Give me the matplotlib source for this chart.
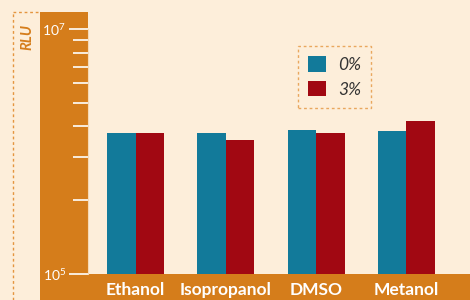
import numpy as np
import matplotlib.pyplot as plt
from matplotlib.patches import Rectangle
from matplotlib.lines import Line2D

# data (RLU)
categories = ["Ethanol", "Isopropanol", "DMSO", "Metanol"]
series_names = ["0%", "3%"]
values_0 = [1.42e6, 1.42e6, 1.50e6, 1.47e6]
values_3 = [1.42e6, 1.24e6, 1.42e6, 1.77e6]

bg = "#FDEEDA"
orange = "#D57D1B"
dash_orange = "#E4953F"
blue = "#127A9A"
red = "#A10812"

plt.rcParams['font.family'] = ['Lato', 'DejaVu Sans']

W, H = 470, 300
fig = plt.figure(figsize=(4.7, 3.0), dpi=100, facecolor=bg)

# decorative bands (figure pixel coords -> fraction)
def fx(px):
    return px / W

def fy(py):
    return 1 - py / H

fig.patches.append(Rectangle((fx(40), 0), fx(88) - fx(40), fy(12), transform=fig.transFigure,
                             facecolor=orange, edgecolor="none", zorder=-1))
fig.patches.append(Rectangle((fx(40), 0), 1 - fx(40), fy(274), transform=fig.transFigure,
                             facecolor=orange, edgecolor="none", zorder=-1))
# dotted box around RLU label
fig.add_artist(Line2D([fx(13), fx(13)], [0, fy(12)], transform=fig.transFigure,
                      color=dash_orange, lw=1, ls=(0, (2, 2))))
fig.add_artist(Line2D([fx(13), fx(40)], [fy(12), fy(12)], transform=fig.transFigure,
                      color=dash_orange, lw=1, ls=(0, (2, 2))))
fig.text(fx(27), fy(37), "RLU", rotation=90, ha="center", va="center",
         color=orange, fontsize=10.5, fontweight="bold", fontstyle="italic")

ax = fig.add_axes([fx(88), fy(274), 1 - fx(88), fy(29) - fy(274)])
ax.set_facecolor("none")

x = np.arange(len(categories))
w = 0.316
ax.bar(x - w / 2, values_0, w, color=blue, label=series_names[0], zorder=2)
ax.bar(x + w / 2, values_3, w, color=red, label=series_names[1], zorder=2)

ax.set_yscale("log")
ax.set_ylim(1e5, 1e7)
ax.set_xlim(-0.526, 3.704)

# minor ticks spaced like a single decade stretched over the axis
minor_pos = [1e5 * k ** 2 for k in range(2, 10)]
ax.set_yticks([1e5, 1e7], [r"$\mathregular{10^5}$", r"$\mathregular{10^7}$"])
ax.set_yticks(minor_pos, minor=True)
ax.yaxis.set_minor_formatter(plt.NullFormatter())
ax.tick_params(axis="y", which="major", length=14, width=1.2, color="white",
               labelcolor="white", labelsize=10, pad=2)
ax.tick_params(axis="y", which="minor", length=11, width=1.2, color="white")

ax.set_xticks(x, categories)
ax.tick_params(axis="x", length=0, labelcolor="white", labelsize=12.5, pad=6)
for t in ax.get_xticklabels():
    t.set_fontweight("bold")

for s in ["top", "right", "bottom"]:
    ax.spines[s].set_visible(False)
ax.spines["left"].set_color("#F6D9B5")
ax.spines["left"].set_linewidth(0.8)

leg = ax.legend(loc="upper left", bbox_to_anchor=(fx(298), fy(46)),
                bbox_transform=fig.transFigure, frameon=True, fancybox=False,
                handlelength=1.0, handleheight=1.0, handletextpad=0.7,
                labelspacing=0.45, borderpad=0.6, borderaxespad=0,
                prop={"style": "italic", "size": 12.5})
frame = leg.get_frame()
frame.set_facecolor("none")
frame.set_edgecolor(dash_orange)
frame.set_linestyle((0, (2, 2)))
frame.set_linewidth(1)
for t in leg.get_texts():
    t.set_color("#333333")

fig.savefig("out.png", dpi=100, facecolor=bg)
